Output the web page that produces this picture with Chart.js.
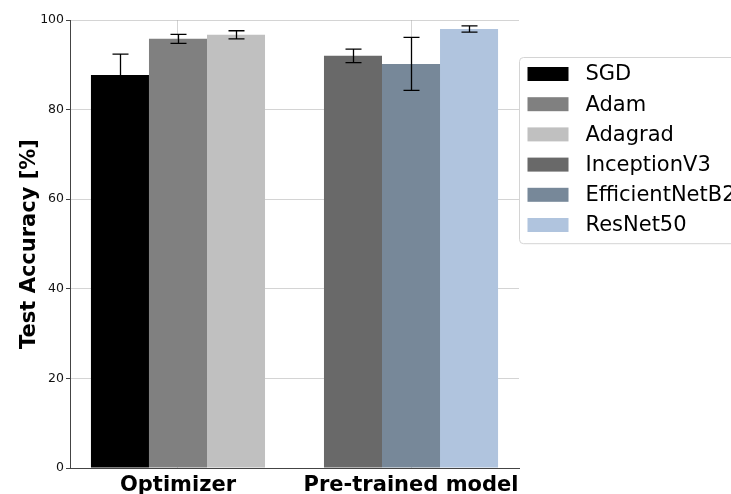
<!DOCTYPE html>
<html>
<head>
<meta charset="utf-8">
<script src="https://cdn.jsdelivr.net/npm/chart.js@4/dist/chart.umd.min.js"></script>
<style>
  html, body { margin: 0; padding: 0; background: #fff; overflow: hidden; }
  #chart { display: block; }
</style>
</head>
<body>
<canvas id="chart" width="731" height="494"></canvas>
<script>
var categories = ['Optimizer', 'Pre-trained model'];
var seriesNames = ['SGD', 'Adam', 'Adagrad', 'InceptionV3', 'EfficientNetB2', 'ResNet50'];
var seriesColors = ['#000000', '#808080', '#c0c0c0', '#696969', '#778899', '#b0c4de'];
// accuracy per series: [Optimizer, Pre-trained model]
var accuracy = [
    [87.7, null],
    [95.8, null],
    [96.7, null],
    [null, 92.0],
    [null, 90.2],
    [null, 98.0]
];
var accuracyErr = [
    [4.7, null],
    [1.0, null],
    [0.9, null],
    [null, 1.5],
    [null, 5.9],
    [null, 0.7]
];
var yTicks = [0, 20, 40, 60, 80, 100];

var FONT = "'DejaVu Sans', sans-serif";

// category axis with a narrower margin around the outer groups
class MarginCategoryScale extends Chart.CategoryScale {
    configure() {
        super.configure();
        var margin = this.options.sideMargin;
        var n = this.getLabels().length;
        this._startValue = -margin;
        this._valueRange = (n - 1) + 2 * margin;
    }
}
MarginCategoryScale.id = 'marginCategory';
MarginCategoryScale.defaults = Chart.CategoryScale.defaults;
Chart.register(MarginCategoryScale);

function buildDatasets() {
    return seriesNames.map(function (name, i) {
        return {
            label: name,
            data: accuracy[i],
            errors: accuracyErr[i],
            backgroundColor: seriesColors[i],
            borderWidth: 0,
            skipNull: true,
            categoryPercentage: 0.747,
            barPercentage: 1.0
        };
    });
}

// vertical error bars with caps, centred on each bar
var errorBars = {
    id: 'errorBars',
    afterDatasetsDraw: function (chart) {
        var ctx = chart.ctx;
        var yScale = chart.scales.y;
        ctx.save();
        ctx.strokeStyle = '#000';
        ctx.lineWidth = 1.3;
        chart.data.datasets.forEach(function (ds, di) {
            var meta = chart.getDatasetMeta(di);
            meta.data.forEach(function (bar, j) {
                var v = ds.data[j];
                var e = ds.errors[j];
                if (v == null || e == null) return;
                var top = yScale.getPixelForValue(v + e);
                var bot = yScale.getPixelForValue(v - e);
                var x = Math.round(bar.x) + 0.5;
                ctx.beginPath();
                ctx.moveTo(x, top);
                ctx.lineTo(x, bot);
                ctx.moveTo(x - 8, top);
                ctx.lineTo(x + 8, top);
                ctx.moveTo(x - 8, bot);
                ctx.lineTo(x + 8, bot);
                ctx.stroke();
            });
        });
        ctx.restore();
    }
};

// framed legend to the right of the plot
var sideLegend = {
    id: 'sideLegend',
    afterDraw: function (chart) {
        var ctx = chart.ctx;
        var left = chart.chartArea.right + 0.5;
        var top = 57.5;
        var rowH = 30.2;
        var n = chart.data.datasets.length;
        ctx.save();
        ctx.beginPath();
        ctx.roundRect(left, top, 260, n * rowH + 5, 4);
        ctx.fillStyle = 'rgba(255,255,255,0.85)';
        ctx.fill();
        ctx.strokeStyle = '#d4d4d4';
        ctx.lineWidth = 1;
        ctx.stroke();
        ctx.font = '21px ' + FONT;
        ctx.textBaseline = 'middle';
        chart.data.datasets.forEach(function (ds, i) {
            var cy = top + 16.5 + i * rowH;
            ctx.fillStyle = ds.backgroundColor;
            ctx.fillRect(left + 8, cy - 7, 41, 14);
            ctx.fillStyle = '#000';
            ctx.fillText(ds.label, left + 66, cy + 1);
        });
        ctx.restore();
    }
};

var gridColor = 'rgba(176,176,176,0.55)';

new Chart(document.getElementById('chart'), {
    type: 'bar',
    data: {
        labels: categories,
        datasets: buildDatasets()
    },
    options: {
        responsive: false,
        animation: false,
        layout: { padding: { top: 20, right: 212, left: 0, bottom: 0 } },
        plugins: {
            legend: { display: false },
            tooltip: { enabled: false }
        },
        scales: {
            x: {
                type: 'marginCategory',
                sideMargin: 0.4634,
                z: 1,
                offset: true,
                afterFit: function (scale) { scale.height = 26; },
                grid: {
                    offset: false,
                    color: gridColor,
                    lineWidth: 1,
                    drawTicks: false
                },
                border: { display: true, color: '#444', width: 1 },
                ticks: {
                    padding: 5,
                    color: '#000',
                    font: { family: FONT, size: 21, weight: 'bold' }
                }
            },
            y: {
                z: 1,
                min: 0,
                max: 100,
                afterFit: function (scale) { scale.width = 70; },
                afterBuildTicks: function (scale) {
                    scale.ticks = yTicks.map(function (v) { return { value: v }; });
                },
                grid: {
                    color: function (c) { return c.tick && c.tick.value === 0 ? 'rgba(0,0,0,0)' : gridColor; },
                    tickColor: '#444',
                    tickLength: 4,
                    lineWidth: 1
                },
                border: { display: true, color: '#444', width: 1 },
                ticks: {
                    padding: 2,
                    color: '#111',
                    font: { family: FONT, size: 12.5 }
                },
                title: {
                    display: true,
                    text: 'Test Accuracy [%]',
                    color: '#000',
                    padding: { top: 17, bottom: 0 },
                    font: { family: FONT, size: 21, weight: 'bold' }
                }
            }
        }
    },
    plugins: [errorBars, sideLegend]
});
</script>
</body>
</html>
